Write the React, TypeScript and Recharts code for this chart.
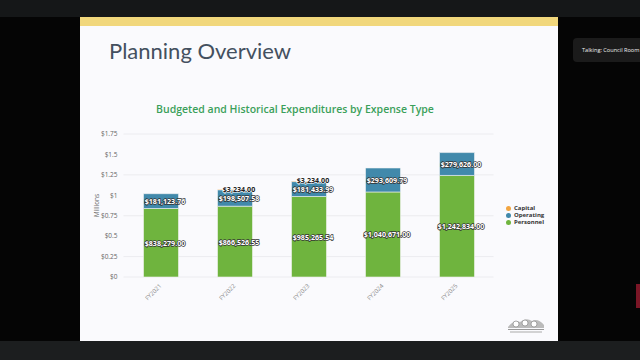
import { BarChart, Bar, XAxis, YAxis, CartesianGrid, LabelList } from 'recharts'

const CATEGORIES = ['FY2021', 'FY2022', 'FY2023', 'FY2024', 'FY2025']
const PERSONNEL = [838279.0, 866526.55, 985265.54, 1040671.0, 1242834.0]
const OPERATING = [181123.76, 198507.58, 181433.99, 293609.79, 279626.0]
const CAPITAL = [0, 3234.0, 3234.0, 0, 0]
const Y_TICKS = [0, 0.25, 0.5, 0.75, 1, 1.25, 1.5, 1.75]

const COLORS = {
  capital: '#f2a541',
  operating: '#4189ab',
  personnel: '#6fb43e',
}

const data = CATEGORIES.map((fy, i) => ({
  fy,
  personnel: PERSONNEL[i] / 1e6,
  operating: OPERATING[i] / 1e6,
  capital: CAPITAL[i] / 1e6,
  personnelRaw: PERSONNEL[i],
  operatingRaw: OPERATING[i],
  capitalRaw: CAPITAL[i],
}))

const money = (v: number) =>
  '$' + v.toLocaleString('en-US', { minimumFractionDigits: 2, maximumFractionDigits: 2 })

const FONT = '"Open Sans", "DejaVu Sans", sans-serif'

function InsideLabel(props: any) {
  const { x, y, width, height, value } = props
  if (!value) return null
  return (
    <text
      x={x + width / 2 + 4}
      y={y + height / 2}
      textAnchor="middle"
      dominantBaseline="central"
      fontSize={7.1}
      fontWeight={700}
      fontFamily={FONT}
      fill="#ffffff"
      stroke="#333"
      strokeWidth={1.4}
      paintOrder="stroke"
    >
      {money(value)}
    </text>
  )
}

function TopLabel(props: any) {
  const { x, y, width, value } = props
  if (!value) return null
  return (
    <text
      x={x + width / 2 + 4}
      y={y - 1}
      textAnchor="middle"
      dominantBaseline="central"
      fontSize={7.1}
      fontWeight={700}
      fontFamily={FONT}
      fill="#222"
      stroke="#fff"
      strokeWidth={1.2}
      paintOrder="stroke"
    >
      {money(value)}
    </text>
  )
}

function FyTick(props: any) {
  const { x, y, payload } = props
  return (
    <text
      x={x}
      y={y}
      transform={`rotate(-45, ${x}, ${y})`}
      textAnchor="end"
      dominantBaseline="central"
      fontSize={6}
      fontFamily={FONT}
      fill="#888"
    >
      {payload.value}
    </text>
  )
}

const legendItems = [
  { name: 'Capital', color: COLORS.capital },
  { name: 'Operating', color: COLORS.operating },
  { name: 'Personnel', color: COLORS.personnel },
]

export default function App() {
  return (
    <div style={{ position: 'absolute', left: 0, top: 0, width: 640, height: 360, background: '#050505', overflow: 'hidden', fontFamily: FONT }}>
      {/* top and bottom bars of the video window */}
      <div style={{ position: 'absolute', left: 0, top: 0, width: 640, height: 17, background: '#151718' }} />
      <div style={{ position: 'absolute', left: 0, top: 341, width: 640, height: 19, background: '#1c1e1f' }} />

      {/* speaker tag and side bits */}
      <div style={{ position: 'absolute', left: 573, top: 38, width: 67, height: 24, background: '#1b1b1b', borderRadius: '4px 0 0 4px' }}>
        <div style={{ position: 'absolute', left: 9, top: 8, fontSize: 5.6, color: '#f0f0f0', whiteSpace: 'nowrap' }}>Talking: Council Room</div>
      </div>
      <div style={{ position: 'absolute', left: 636, top: 284, width: 4, height: 24, background: '#7a1626' }} />

      {/* slide */}
      <div style={{ position: 'absolute', left: 80, top: 17, width: 478, height: 324, background: '#fafafd' }}>
        <div style={{ position: 'absolute', left: 0, top: 0, width: 478, height: 9, background: '#f1d77c' }} />
        <div style={{ position: 'absolute', left: 29, top: 20, fontSize: 22, color: '#44505f', fontFamily: 'Lato, "Open Sans", sans-serif', whiteSpace: 'nowrap' }}>
          Planning Overview
        </div>
        <div style={{ position: 'absolute', left: 0, top: 85, width: 430, textAlign: 'center', fontSize: 10.5, fontWeight: 600, color: '#3aa05a', whiteSpace: 'nowrap' }}>
          Budgeted and Historical Expenditures by Expense Type
        </div>
        <div style={{ position: 'absolute', left: 4, top: 184, width: 24, textAlign: 'center', transform: 'rotate(-90deg)', fontSize: 6.5, color: '#666' }}>
          Millions
        </div>

        {/* legend */}
        <div style={{ position: 'absolute', left: 426, top: 188 }}>
          {legendItems.map(item => (
            <div key={item.name} style={{ display: 'flex', alignItems: 'center', gap: 3, height: 7, lineHeight: '7px', fontSize: 6, fontWeight: 700, color: '#333' }}>
              <span style={{ width: 5, height: 5, borderRadius: '50%', background: item.color, flexShrink: 0 }} />
              {item.name}
            </div>
          ))}
        </div>

        {/* logo */}
        <svg style={{ position: 'absolute', left: 424, top: 296 }} width={44} height={22}>
          <path d="M4 14 Q10 6 16 9 Q22 4 28 8 Q34 5 40 12 L40 15 L4 15 Z" fill="#bbb" />
          <circle cx={12} cy={11} r={3} fill="#fff" stroke="#888" strokeWidth={0.7} />
          <circle cx={21} cy={10} r={3} fill="#fff" stroke="#888" strokeWidth={0.7} />
          <circle cx={30} cy={11} r={3} fill="#fff" stroke="#888" strokeWidth={0.7} />
          <rect x={4} y={16} width={36} height={1} fill="#999" />
          <rect x={6} y={18.5} width={32} height={1} fill="#aaa" />
        </svg>
      </div>

      <div style={{ position: 'absolute', left: 80, top: 90 }}>
        <BarChart
          width={460}
          height={230}
          data={data}
          margin={{ top: 44, right: 46.5, bottom: 13, left: 0 }}
          barSize={35}
        >
          <CartesianGrid vertical={false} stroke="#e8e8ec" strokeWidth={0.8} />
          <XAxis
            dataKey="fy"
            height={30}
            axisLine={false}
            tickLine={false}
            tick={<FyTick />}
            interval={0}
          />
          <YAxis
            width={43.5}
            domain={[0, 1.75]}
            ticks={Y_TICKS}
            axisLine={false}
            tickLine={false}
            tickSize={4}
            tickFormatter={(v: number) => `$${v}`}
            tick={{ fontSize: 6.5, fill: '#666', fontFamily: FONT }}
          />
          <Bar dataKey="personnel" stackId="a" fill={COLORS.personnel} stroke="#f4f4f4" strokeWidth={0.6} isAnimationActive={false}>
            <LabelList dataKey="personnelRaw" content={<InsideLabel />} />
          </Bar>
          <Bar dataKey="operating" stackId="a" fill={COLORS.operating} stroke="#f4f4f4" strokeWidth={0.6} isAnimationActive={false}>
            <LabelList dataKey="operatingRaw" content={<InsideLabel />} />
          </Bar>
          <Bar dataKey="capital" stackId="a" fill={COLORS.capital} isAnimationActive={false}>
            <LabelList dataKey="capitalRaw" content={<TopLabel />} />
          </Bar>
        </BarChart>
      </div>
    </div>
  )
}
